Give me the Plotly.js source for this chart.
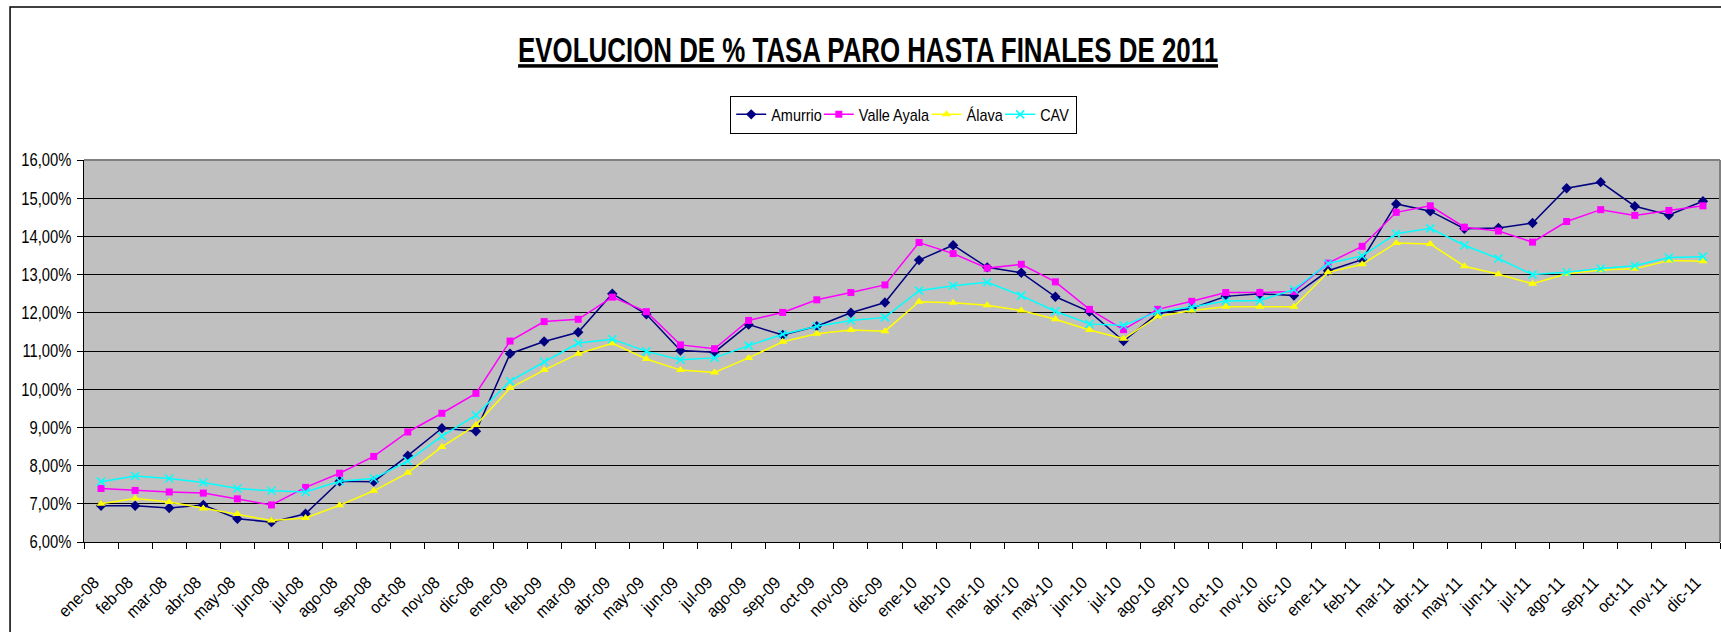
<!DOCTYPE html>
<html>
<head>
<meta charset="utf-8">
<script src="https://cdn.plot.ly/plotly-3.0.1.min.js"></script>
<style>
html,body{margin:0;padding:0;background:#fff;}
#chart{width:1721px;height:632px;}
</style>
</head>
<body>
<div id="chart"></div>
<script>
const categories = [
  "ene-08","feb-08","mar-08","abr-08","may-08","jun-08","jul-08","ago-08","sep-08","oct-08","nov-08","dic-08",
  "ene-09","feb-09","mar-09","abr-09","may-09","jun-09","jul-09","ago-09","sep-09","oct-09","nov-09","dic-09",
  "ene-10","feb-10","mar-10","abr-10","may-10","jun-10","jul-10","ago-10","sep-10","oct-10","nov-10","dic-10",
  "ene-11","feb-11","mar-11","abr-11","may-11","jun-11","jul-11","ago-11","sep-11","oct-11","nov-11","dic-11"
];

const amurrio = [
  6.95,6.95,6.89,6.97,6.61,6.52,6.74,7.59,7.58,8.26,8.98,8.90,
  10.93,11.25,11.49,12.50,11.96,11.01,10.97,11.69,11.42,11.65,12.00,12.27,
  13.38,13.77,13.19,13.05,12.42,12.03,11.26,11.98,12.12,12.43,12.50,12.45,
  13.10,13.39,14.85,14.66,14.20,14.22,14.35,15.26,15.42,14.79,14.56,14.92
];

const valleAyala = [
  7.40,7.35,7.31,7.28,7.13,6.97,7.43,7.80,8.24,8.88,9.37,9.89,
  11.26,11.77,11.83,12.41,12.03,11.16,11.06,11.80,12.01,12.34,12.53,12.73,
  13.84,13.55,13.17,13.27,12.81,12.09,11.56,12.09,12.30,12.53,12.53,12.56,
  13.30,13.74,14.63,14.80,14.24,14.14,13.85,14.39,14.70,14.55,14.68,14.80
];

const alava = [
  7.00,7.14,7.05,6.88,6.73,6.56,6.63,6.96,7.34,7.81,8.49,9.06,
  10.03,10.50,10.93,11.20,10.79,10.50,10.44,10.82,11.24,11.45,11.55,11.52,
  12.29,12.26,12.20,12.06,11.83,11.55,11.32,11.90,12.06,12.16,12.16,12.16,
  13.06,13.27,13.83,13.80,13.22,13.01,12.76,13.02,13.12,13.15,13.37,13.35
];

const cav = [
  7.58,7.73,7.66,7.56,7.40,7.34,7.31,7.59,7.66,8.12,8.77,9.32,
  10.21,10.72,11.21,11.31,10.99,10.77,10.82,11.14,11.44,11.65,11.80,11.88,
  12.58,12.71,12.80,12.45,12.04,11.71,11.67,12.03,12.15,12.31,12.32,12.61,
  13.29,13.49,14.07,14.21,13.77,13.42,13.00,13.06,13.16,13.23,13.45,13.47
];

const seriesNames = ["Amurrio", "Valle Ayala", "Álava", "CAV"];
const titleText = "EVOLUCION DE % TASA PARO HASTA FINALES DE 2011";

const FONT = "Liberation Sans Narrow, Arial Narrow, Liberation Sans, Arial, sans-serif";

const traces = [
  {
    x: categories, y: amurrio, name: seriesNames[0], type: "scatter", mode: "lines+markers",
    line: {color: "#000080", width: 1.5},
    marker: {symbol: "diamond", size: 8, color: "#000080"}
  },
  {
    x: categories, y: valleAyala, name: seriesNames[1], type: "scatter", mode: "lines+markers",
    line: {color: "#FF00FF", width: 1.5},
    marker: {symbol: "square", size: 7, color: "#FF00FF"}
  },
  {
    x: categories, y: alava, name: seriesNames[2], type: "scatter", mode: "lines+markers",
    line: {color: "#FFFF00", width: 1.5},
    marker: {symbol: "triangle-up", size: 8, color: "#FFFF00"}
  },
  {
    x: categories, y: cav, name: seriesNames[3], type: "scatter", mode: "lines+markers",
    line: {color: "#00FFFF", width: 1.5},
    marker: {symbol: "x-thin", size: 8, color: "#00FFFF", line: {color: "#00FFFF", width: 1.5}}
  }
];

const layout = {
  width: 1721,
  height: 632,
  margin: {l: 84, r: 1, t: 160, b: 90, pad: 0},
  paper_bgcolor: "#FFFFFF",
  plot_bgcolor: "#C0C0C0",
  separators: ",.",
  font: {family: FONT, size: 18, color: "#000000"},
  title: {
    text: "<b><u>" + titleText + "</u></b>",
    font: {family: FONT, size: 35, color: "#000000"},
    xref: "container", x: 0.5044, xanchor: "center",
    yref: "container", y: 0.921, yanchor: "middle"
  },
  showlegend: true,
  legend: {
    orientation: "h",
    x: 0.395, xanchor: "left",
    y: 1.168, yanchor: "top",
    bgcolor: "#FFFFFF",
    bordercolor: "#000000",
    borderwidth: 1,
    font: {family: FONT, size: 17, color: "#000000"},
    itemwidth: 30,
    tracegroupgap: 0
  },
  xaxis: {
    type: "category",
    range: [-0.5, categories.length - 0.5],
    autorange: false,
    tickson: "boundaries",
    ticks: "outside",
    ticklen: 6,
    tickcolor: "#000000",
    tickwidth: 1,
    tickangle: -45,
    showgrid: false,
    showline: true,
    linecolor: "#000000",
    linewidth: 1,
    zeroline: false,
    tickfont: {family: FONT, size: 17, color: "#000000"},
    ticklabelstandoff: 23
  },
  yaxis: {
    range: [6, 16],
    autorange: false,
    dtick: 1,
    tick0: 6,
    tickformat: ".2f",
    ticksuffix: "%",
    ticks: "outside",
    ticklen: 6,
    tickcolor: "#000000",
    tickwidth: 1,
    showgrid: true,
    gridcolor: "#000000",
    gridwidth: 1,
    showline: true,
    linecolor: "#000000",
    linewidth: 1,
    zeroline: false,
    tickfont: {family: FONT, size: 18, color: "#000000"},
    ticklabelstandoff: 2
  },
  shapes: [
    {type: "line", xref: "paper", yref: "paper", x0: 0, x1: 1, y0: 1, y1: 1,
     line: {color: "#808080", width: 2}},
    {type: "line", xref: "paper", yref: "paper", x0: 1, x1: 1, y0: 0, y1: 1,
     line: {color: "#808080", width: 2}},
    {type: "rect", xref: "paper", yref: "paper", x0: -0.0452, x1: 1.02, y0: -0.3, y1: 1.4005,
     line: {color: "#000000", width: 1.5}, fillcolor: "rgba(0,0,0,0)"}
  ]
};

function squeeze(selector, factor, fixedLen) {
  document.querySelectorAll(selector).forEach(function (t) {
    var L = t.getComputedTextLength();
    if (!L) return;
    var target = fixedLen ? fixedLen : L * factor;
    t.setAttribute("textLength", target.toFixed(1));
    t.setAttribute("lengthAdjust", "spacingAndGlyphs");
  });
}

function condenseLegend(factor, gapCut) {
  var legend = document.querySelector("#chart .legend");
  if (!legend) return;
  var items = legend.querySelectorAll("g.traces");
  var shift = 0;
  items.forEach(function (g) {
    var t = g.querySelector("text.legendtext");
    var tr = g.getAttribute("transform") || "";
    var m = tr.match(/translate\(\s*([-\d.]+)[ ,]+([-\d.]+)\s*\)/);
    if (m) {
      g.setAttribute("transform", "translate(" + (parseFloat(m[1]) - shift) + "," + m[2] + ")");
    }
    if (t) {
      var L = t.getComputedTextLength();
      var nl = L * factor;
      t.setAttribute("textLength", nl.toFixed(1));
      t.setAttribute("lengthAdjust", "spacingAndGlyphs");
      shift += (L - nl) + gapCut;
    }
  });
  var bg = legend.querySelector("rect.bg");
  if (bg) {
    var w = parseFloat(bg.getAttribute("width"));
    bg.setAttribute("width", (w - shift + gapCut).toFixed(1));
  }
}

Plotly.newPlot("chart", traces, layout, {staticPlot: true, displayModeBar: false}).then(function () {
  // emulate the condensed (Arial Narrow) lettering of the original
  squeeze("#chart .gtitle", 1, 700);
  squeeze("#chart .yaxislayer-above .ytick text", 0.82);
  squeeze("#chart .xaxislayer-above .xtick text", 0.92);
  // nudge only the month labels (not the tick marks) slightly left
  document.querySelectorAll("#chart .xaxislayer-above g.xtick").forEach(function (g) {
    var tr = g.getAttribute("transform") || "";
    g.setAttribute("transform", "translate(-7,0) " + tr);
  });
  condenseLegend(0.85, 8);
});
</script>
</body>
</html>
